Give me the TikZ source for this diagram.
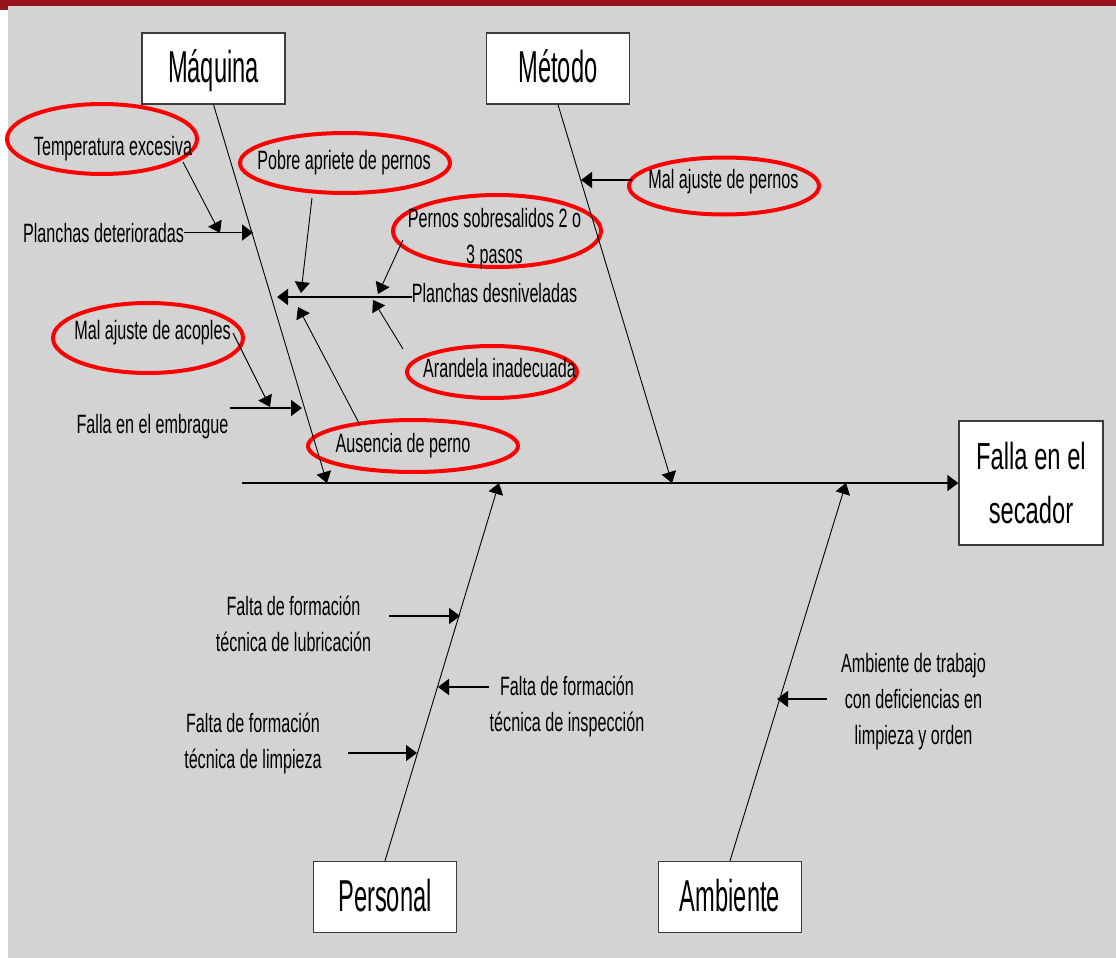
\documentclass[tikz,border=0pt]{standalone}
\usepackage{fontspec}
\usetikzlibrary{arrows.meta}
% condensed sans faces for the labels
\newfontfamily\causefont[FakeStretch=0.61]{Liberation Sans}
\newfontfamily\groupfont[FakeStretch=0.53]{Liberation Sans}
\newfontfamily\effectfont[FakeStretch=0.63]{Liberation Sans}
\definecolor{pagebg}{HTML}{D3D3D3}
\definecolor{bandred}{HTML}{96121C}
\definecolor{boxline}{HTML}{3C3C3C}
\begin{document}
\begin{tikzpicture}[x=1pt,y=-1pt,
  group/.style={draw=boxline, line width=1.3pt, fill=white, minimum width=143pt,
    minimum height=71pt, inner sep=0pt, text height=28pt, text depth=0pt,
    font=\groupfont\fontsize{44.7}{50}\selectfont},
  effectbox/.style={draw=boxline, line width=1.3pt, fill=white, minimum width=144pt,
    minimum height=124pt, inner sep=0pt, align=center,
    font=\effectfont\fontsize{37.7}{54}\selectfont},
  cause/.style={inner sep=0pt, anchor=base, align=center,
    font=\causefont\fontsize{26.5}{36}\selectfont},
  ring/.style={draw=red, line width=4pt},
  bone/.style={line width=0.9pt, -{Triangle[length=11pt,width=15pt]}},
  twig/.style={line width=0.9pt, -{Triangle[length=11pt,width=15pt]}},
  feed/.style={line width=1.6pt, -{Triangle[length=11pt,width=16pt]}},
  spine/.style={line width=1.8pt, -{Triangle[length=11pt,width=16pt]}},
]
\useasboundingbox (0,0) rectangle (1116,958);
% page background with the red band
\fill[white] (0,0) rectangle (1116,958);
\fill[pagebg] (8,6) rectangle (1116,958);
\fill[bandred] (0,0) rectangle (1116,6);
\fill[bandred] (0,0) rectangle (8,10);

% red highlight rings around the root causes
\draw[ring] (102,139) ellipse [x radius=95pt, y radius=35pt];
\draw[ring] (345,163) ellipse [x radius=105pt, y radius=30pt];
\draw[ring] (497,231) ellipse [x radius=104pt, y radius=36pt];
\draw[ring] (492,372) ellipse [x radius=85pt, y radius=26pt];
\draw[ring] (413,446) ellipse [x radius=105pt, y radius=26pt];
\draw[ring] (148,338) ellipse [x radius=95pt, y radius=35pt];
\draw[ring] (724,186) ellipse [x radius=95pt, y radius=28.5pt];

% category boxes and effect
\node[group] (maquina) at (213.5,68.5) {Máquina};
\node[group] (metodo) at (558,68.5) {Método};
\node[group] (personal) at (385,897) {Personal};
\node[group] (ambiente) at (730,897) {Ambiente};
\node[effectbox] (efecto) at (1031,483) {Falla en el\\secador};

% spine and main bones
\coordinate (cola) at (242,483);
\coordinate (jm) at (327,483);
\coordinate (jt) at (672,483);
\coordinate (jp) at (499,483);
\coordinate (ja) at (846,483);
\draw[spine] (cola) -- (efecto.west);
\draw[bone] (maquina.south) -- (jm);
\draw[bone] (metodo.south) -- (jt);
\draw[bone] (personal.north) -- (jp);
\draw[bone] (ambiente.north) -- (ja);

% cause labels (base = baseline of the last line)
\node[cause] (tempexc) at (113,155) {Temperatura excesiva};
\node[cause] (plandet) at (103.5,242) {Planchas deterioradas};
\node[cause] (pobre) at (344,169) {Pobre apriete de pernos};
\node[cause] (plandes) at (494.5,302) {Planchas desniveladas};
\node[cause] (pernos) at (494.5,263) {Pernos sobresalidos 2 o\\3 pasos};
\node[cause] (arandela) at (499.5,377) {Arandela inadecuada};
\node[cause] (ausencia) at (403,452) {Ausencia de perno};
\node[cause] (acoples) at (152.5,339) {Mal ajuste de acoples};
\node[cause] (embrague) at (152.5,433) {Falla en el embrague};
\node[cause] (ajuste) at (723.5,188) {Mal ajuste de pernos};
\node[cause] (lubric) at (293.5,651) {Falta de formación\\técnica de lubricación};
\node[cause] (inspec) at (567,731) {Falta de formación\\técnica de inspección};
\node[cause] (limpz) at (253,768) {Falta de formación\\técnica de limpieza};
\node[cause] (entorno) at (913.5,744) {Ambiente de trabajo\\con deficiencias en\\limpieza y orden};

% connector end points
\coordinate (tempexc-o) at (183,162);  \coordinate (tempexc-i) at (220,233);
\coordinate (plandet-i) at (253,233);
\coordinate (pobre-o) at (312,198);    \coordinate (pobre-i) at (301,293);
\coordinate (plandes-o) at (412,297);  \coordinate (plandes-i) at (277,297);
\coordinate (pernos-o) at (403,240);   \coordinate (pernos-i) at (378,294);
\coordinate (arandela-o) at (403,349); \coordinate (arandela-i) at (373,300);
\coordinate (ausencia-o) at (360,425); \coordinate (ausencia-i) at (298,307);
\coordinate (acoples-o) at (233,333);  \coordinate (acoples-i) at (270,407);
\coordinate (embrague-o) at (230,408); \coordinate (embrague-i) at (302,408);
\coordinate (ajuste-o) at (632,180);   \coordinate (ajuste-i) at (581,180);
\coordinate (lubric-o) at (389,616);   \coordinate (lubric-i) at (460,616);
\coordinate (inspec-o) at (489,687);   \coordinate (inspec-i) at (438,687);
\coordinate (limpz-o) at (348,753);    \coordinate (limpz-i) at (417,753);
\coordinate (entorno-o) at (827,699);  \coordinate (entorno-i) at (777,699);

% Maquina branch
\draw[twig] (tempexc-o) -- (tempexc-i);
\draw[feed] (plandet.east) -- (plandet.east -| plandet-i);
\draw[twig] (pobre-o) -- (pobre-i);
\draw[feed] (plandes-o) -- (plandes-i);
\draw[twig] (pernos-o) -- (pernos-i);
\draw[twig] (arandela-o) -- (arandela-i);
\draw[twig] (ausencia-o) -- (ausencia-i);
\draw[twig] (acoples-o) -- (acoples-i);
\draw[feed] (embrague-o) -- (embrague-i);
% Metodo branch
\draw[feed] (ajuste-o) -- (ajuste-i);
% Personal branch
\draw[feed] (lubric-o) -- (lubric-i);
\draw[feed] (inspec-o) -- (inspec-i);
\draw[feed] (limpz-o) -- (limpz-i);
% Ambiente branch
\draw[feed] (entorno-o) -- (entorno-i);
\end{tikzpicture}
\end{document}
